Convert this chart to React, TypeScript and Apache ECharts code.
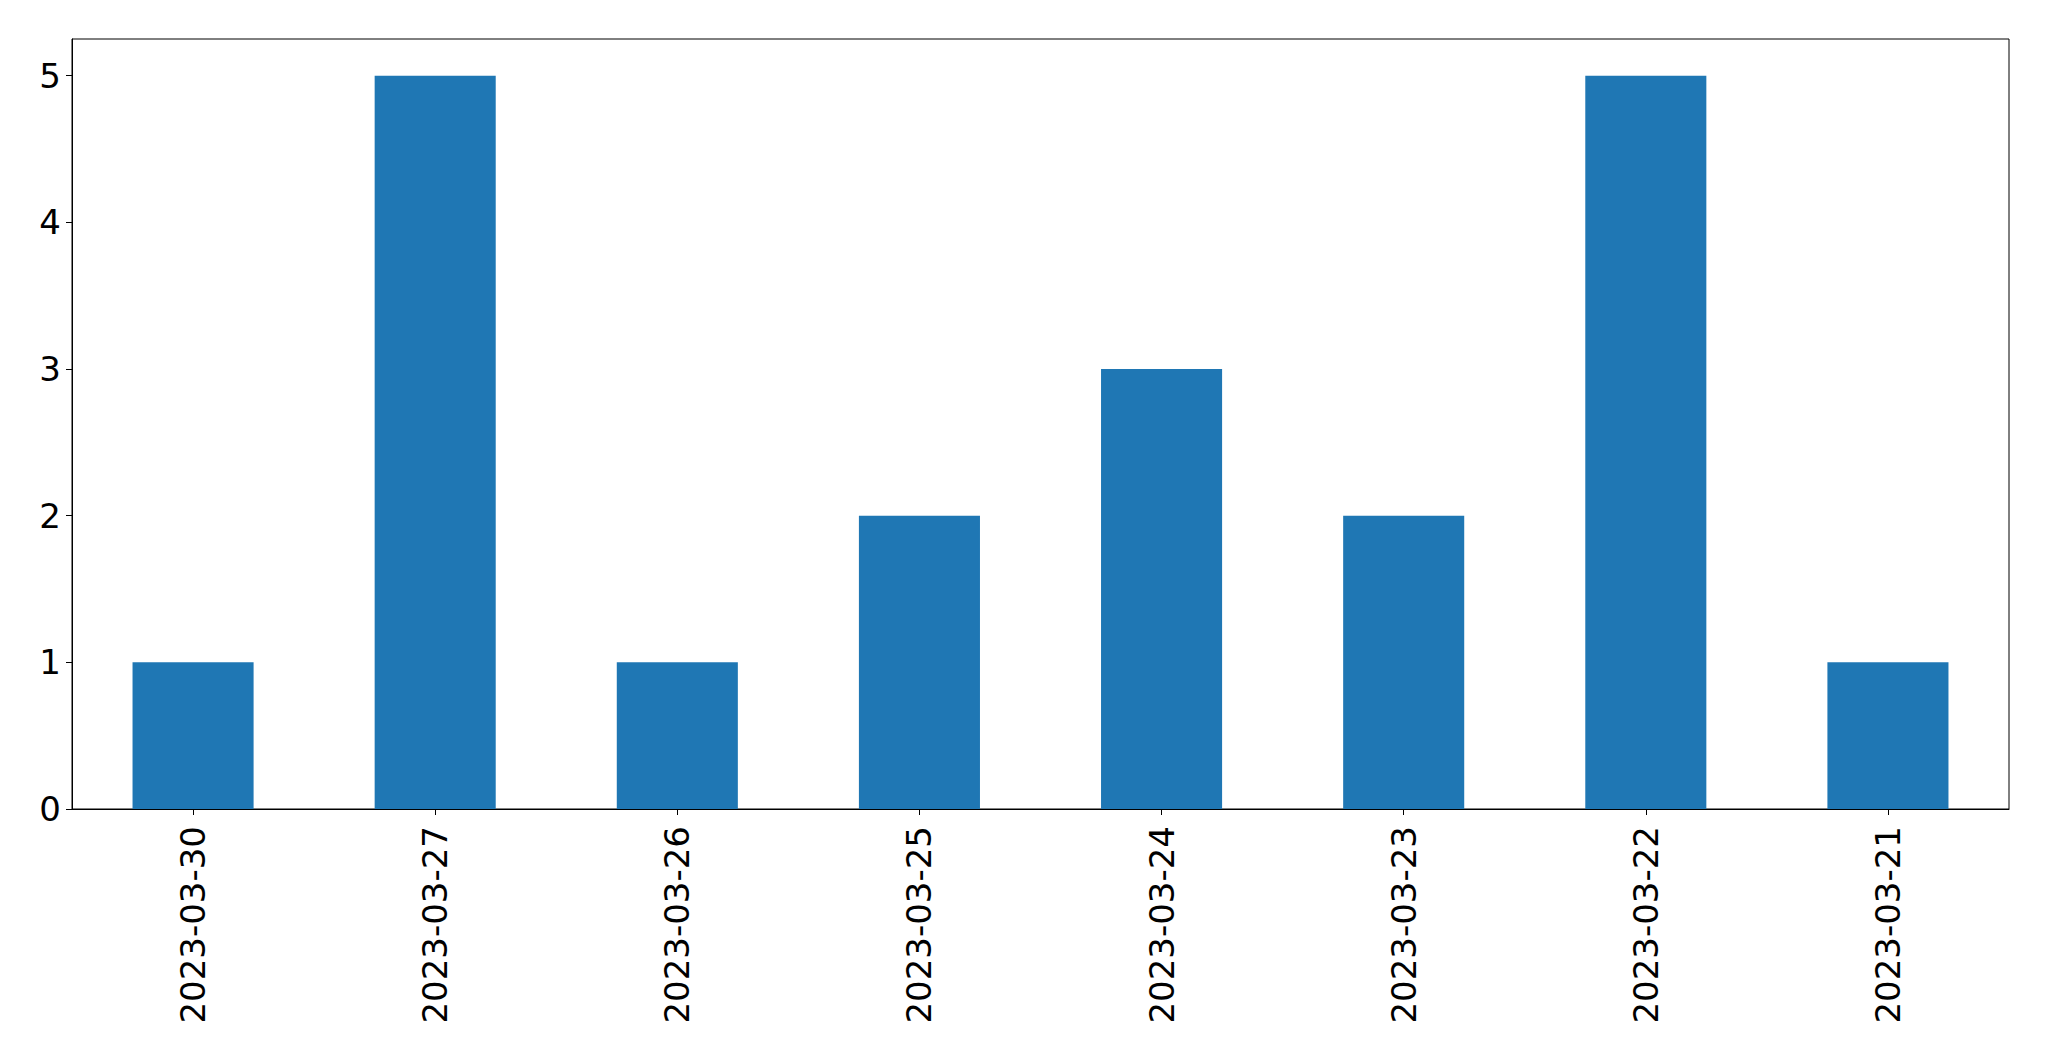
import React, { useEffect, useRef } from "react";
import * as echarts from "echarts";

const categories = ["2023-03-30", "2023-03-27", "2023-03-26", "2023-03-25", "2023-03-24", "2023-03-23", "2023-03-22", "2023-03-21"];
const values = [1, 5, 1, 2, 3, 2, 5, 1];
const yTicks = [0, 1, 2, 3, 4, 5];

export default function App() {
  const ref = useRef<HTMLDivElement>(null);
  useEffect(() => {
    document.body.style.margin = "0";
    const chart = echarts.init(ref.current!, null, { renderer: "svg" });
    const font = "DejaVu Sans";
    chart.setOption({
      animation: false,
      backgroundColor: "#ffffff",
      grid: {
        left: 72,
        top: 39,
        right: 40,
        bottom: 252,
        show: true,
        borderColor: "#000000",
        borderWidth: 1,
        backgroundColor: "transparent",
      },
      xAxis: {
        type: "category",
        data: categories,
        boundaryGap: true,
        axisLine: { show: true, lineStyle: { color: "#000000", width: 1 } },
        axisTick: { show: true, alignWithLabel: true, length: 6, lineStyle: { color: "#000000", width: 1 } },
        axisLabel: { rotate: 90, color: "#000000", fontFamily: font, fontSize: 34, margin: 17, interval: 0 },
        splitLine: { show: false },
      },
      yAxis: {
        type: "value",
        min: 0,
        max: 5.25,
        interval: 1,
        axisLine: { show: true, lineStyle: { color: "#000000", width: 1 } },
        axisTick: { show: true, length: 6, customValues: yTicks, lineStyle: { color: "#000000", width: 1 } },
        axisLabel: { color: "#000000", fontFamily: font, fontSize: 34, margin: 11, customValues: yTicks },
        splitLine: { show: false },
      },
      series: [
        {
          type: "bar",
          data: values,
          barWidth: "50%",
          itemStyle: { color: "#1f77b4" },
        },
      ],
    });
    return () => chart.dispose();
  }, []);
  return <div ref={ref} style={{ width: 2049, height: 1061 }} />;
}
